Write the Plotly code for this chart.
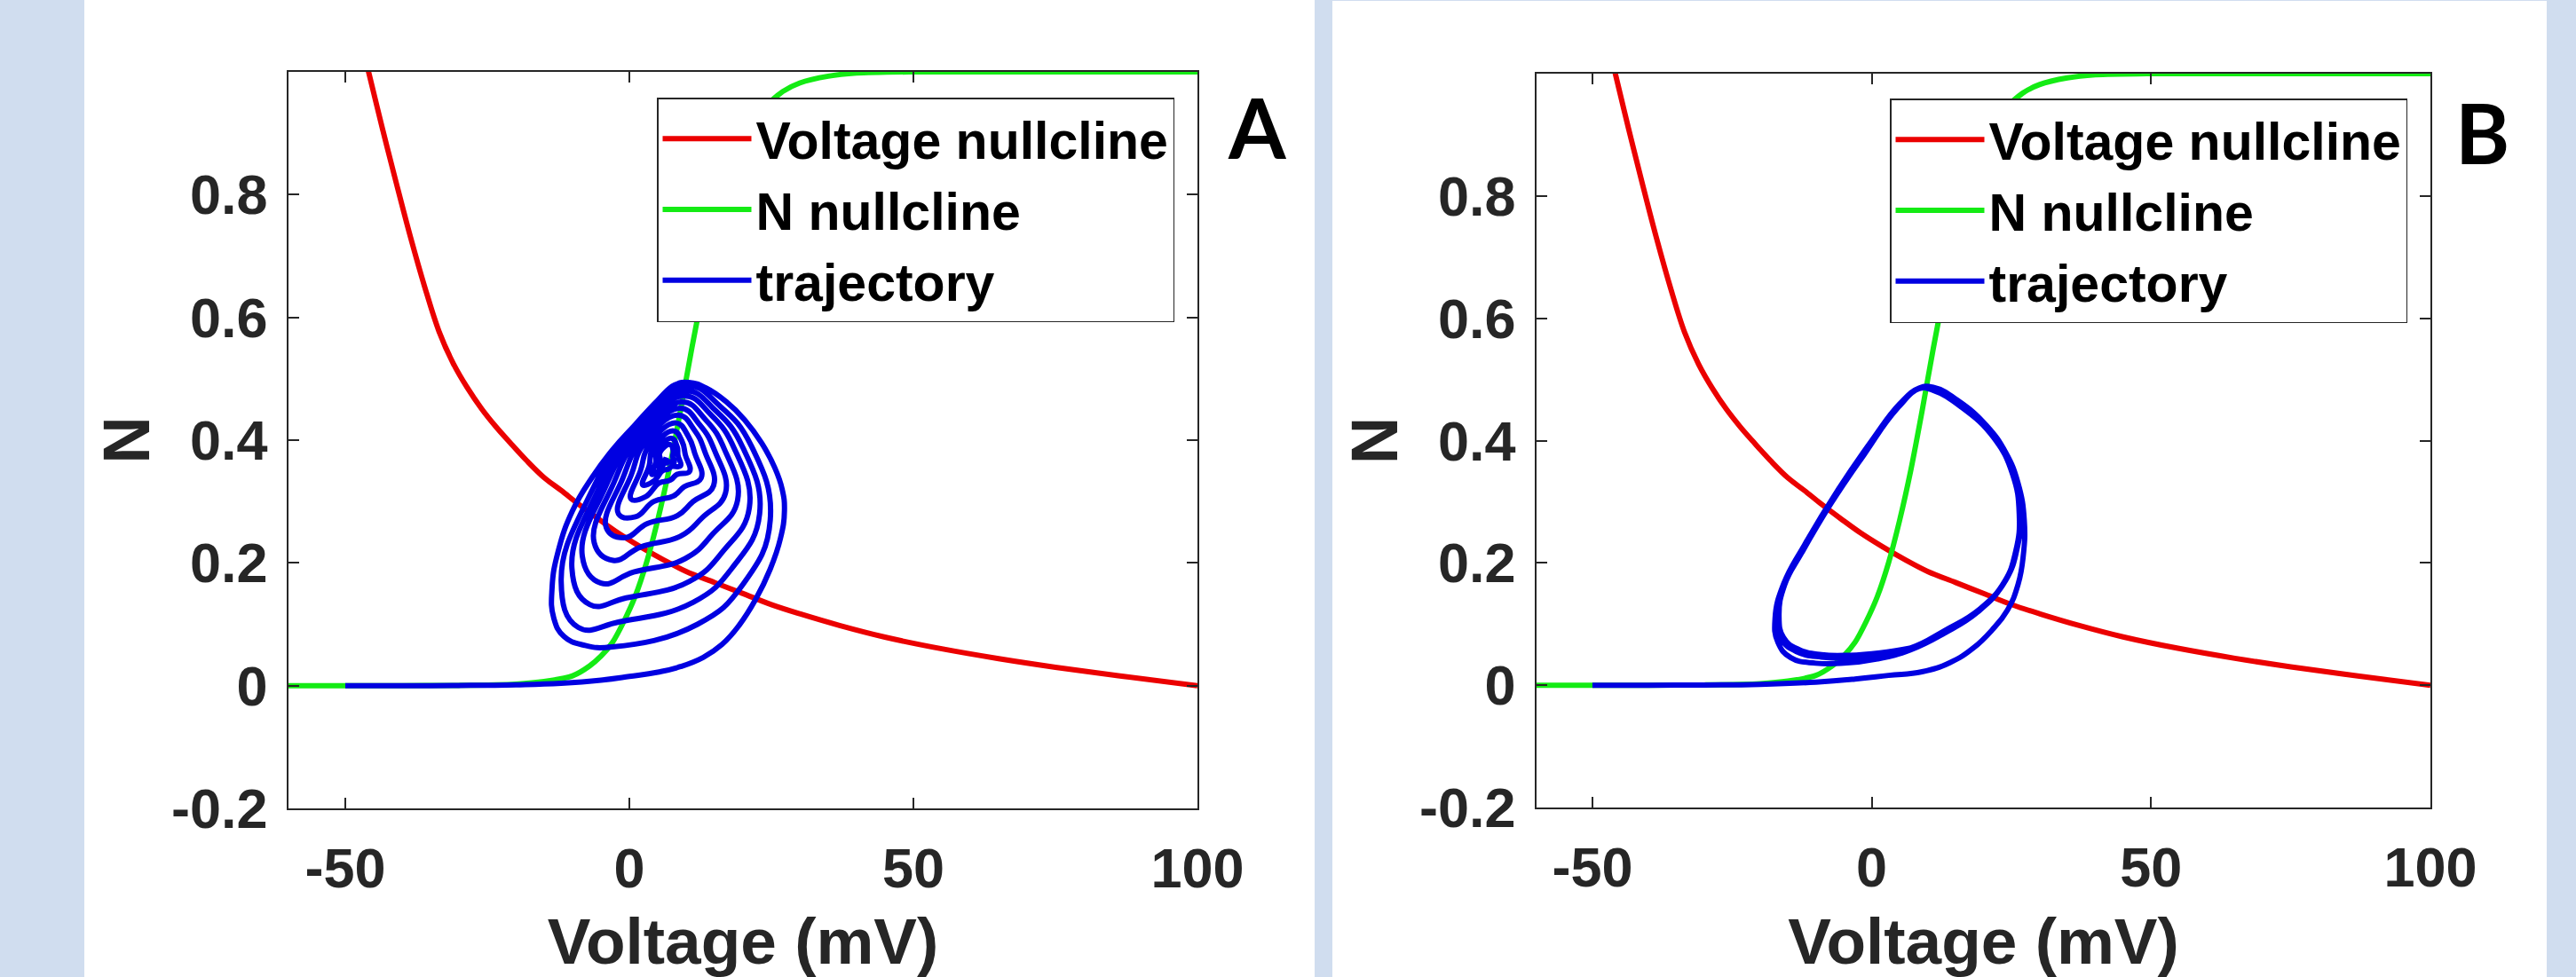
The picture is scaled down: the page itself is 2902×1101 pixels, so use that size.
import plotly.graph_objects as go

W, H = 2902, 1101

# ---------------- data ----------------
X_TICKS = [-50, 0, 50, 100]
X_TICKTEXT = ["-50", "0", "50", "100"]
Y_TICKS = [-0.2, 0.0, 0.2, 0.4, 0.6, 0.8]
Y_TICKTEXT = ["-0.2", "0", "0.2", "0.4", "0.6", "0.8"]

# Voltage nullcline (red)
VNULL_V = [-47, -45.9, -43.5, -41, -38.5, -36, -33.5, -31, -28.5, -26, -23.5, -21, -18, -15,
           -12, -9, -5.5, -2, 2, 6, 10, 15, 20, 25, 30, 37, 45, 55, 65, 75, 87, 100]
VNULL_N = [1.042, 1.0, 0.909, 0.818, 0.73, 0.649, 0.577, 0.525, 0.485, 0.451, 0.422, 0.396,
           0.366, 0.339, 0.318, 0.296, 0.272, 0.249, 0.226, 0.205, 0.186, 0.168, 0.15, 0.132,
           0.117, 0.098, 0.079, 0.06, 0.044, 0.03, 0.015, 0.0]

# N nullcline (green)
NNULL_V = [-60, -40, -30, -20, -15, -10, -7, -5, -3, -1, 1, 3, 5, 7, 9, 11, 13, 15, 18, 21,
           24, 27, 30, 35, 40, 50, 70, 100]
NNULL_N = [0.0, 0.0, 0.0004, 0.0025, 0.0067, 0.016, 0.032, 0.048, 0.07, 0.104, 0.145, 0.2,
           0.27, 0.352, 0.448, 0.55, 0.645, 0.73, 0.83, 0.9, 0.943, 0.968, 0.982, 0.993, 0.998,
           1.0, 1.0, 1.0]

# Panel A trajectory (damped spiral)
TRAJ_A_V = [
    -50, -40, -30, -20, -12, -5, 0, 5, 9, 13, 16.3, 19.3, 22.2, 24.8, 26.6, 27.3, 26.9, 25.6,
    23.3, 20.3, 17, 13.5, 10.5, 8, 5, 1, -3, -6.5, -10, -12.5, -13.6, -13.3, -11.5, -8,
    -3.0, 12.0, 20.0, 24.8, 21.5, 16.0, 10.0, 0.0, -7.0, -12.0, -9.0,
    -1.74, 11.27, 18.2, 22.93, 19.97, 15.19, 9.76, 0.45, -5.62, -10.11, -6.94,
    -0.54, 10.58, 16.5, 21.12, 18.49, 14.39, 9.51, 0.90, -4.29, -8.28, -4.99,
    0.75, 9.83, 14.67, 19.05, 16.79, 13.45, 9.22, 1.44, -2.76, -6.19, -2.88,
    2.02, 9.10, 12.87, 16.93, 15.05, 12.48, 8.90, 2.03, -1.20, -4.05, -0.82,
    3.17, 8.43, 11.23, 14.83, 13.33, 11.48, 8.57, 2.65, 0.36, -1.92, 1.07,
    4.29, 7.78, 9.65, 12.63, 11.53, 10.39, 8.19, 3.36, 1.98, 0.30, 2.89,
    5.21, 7.25, 8.34, 10.60, 9.86, 9.32, 7.79, 4.10, 3.48, 2.36, 4.39,
    5.83, 6.89, 7.46, 9.01, 8.56, 8.42, 7.43, 4.77, 4.65, 3.97, 5.40,
    6.20, 6.68, 6.93, 7.89, 7.64, 7.72, 7.13, 5.34, 5.47, 5.09, 6.00,
    6.5]
TRAJ_A_N = [
    0, 0, 0.0003, 0.0015, 0.004, 0.009, 0.015, 0.022, 0.031, 0.046, 0.067, 0.098, 0.14, 0.19,
    0.24, 0.285, 0.32, 0.355, 0.395, 0.433, 0.463, 0.485, 0.494, 0.49, 0.465, 0.425, 0.384,
    0.34, 0.285, 0.22, 0.16, 0.11, 0.08, 0.066,
    0.063, 0.100, 0.165, 0.270, 0.390, 0.455, 0.488, 0.410, 0.310, 0.170, 0.095,
    0.104, 0.136, 0.193, 0.280, 0.388, 0.448, 0.480, 0.407, 0.316, 0.191, 0.132,
    0.143, 0.170, 0.219, 0.290, 0.386, 0.441, 0.472, 0.405, 0.322, 0.211, 0.167,
    0.185, 0.207, 0.247, 0.302, 0.384, 0.433, 0.462, 0.402, 0.330, 0.233, 0.204,
    0.226, 0.244, 0.274, 0.314, 0.382, 0.424, 0.452, 0.398, 0.337, 0.257, 0.241,
    0.264, 0.277, 0.300, 0.326, 0.380, 0.416, 0.441, 0.395, 0.344, 0.280, 0.275,
    0.300, 0.309, 0.324, 0.338, 0.378, 0.406, 0.428, 0.390, 0.351, 0.304, 0.308,
    0.330, 0.335, 0.344, 0.349, 0.376, 0.397, 0.415, 0.386, 0.358, 0.327, 0.334,
    0.350, 0.353, 0.357, 0.358, 0.375, 0.389, 0.403, 0.382, 0.364, 0.344, 0.352,
    0.362, 0.363, 0.365, 0.364, 0.373, 0.383, 0.393, 0.379, 0.367, 0.357, 0.363,
    0.372]

# Panel B trajectory (converging onto a limit cycle)
TRAJ_B_V = [
    -50, -40, -30, -20, -10, -3, 3, 9, 14, 18.2, 21.5, 24.3, 26.2, 27.1, 27.3, 26.2, 24, 20.5,
    15.5, 11, 8.5, 5, 0, -6, -12, -15.8, -17.3, -16.8, -14.5, -10, -5, 1,
    7, 13, 19, 23.5, 25.8, 26.4, 25.2, 21.8, 16, 11, 8.5, 4.5, -1.5, -7.6, -12.9, -16, -17,
    -16.2, -13.5, -9, -4, 1.5,
    7, 13, 19.3, 23.8, 26, 26.6, 25.4, 22, 16.2, 11.2, 8.7, 4.6, -1.4, -7.4, -12.6, -15.7,
    -16.7, -15.9, -13.3, -9, -4, 1.5,
    7, 13, 19.4, 24, 26.1, 26.7, 25.5, 22.1, 16.3, 11.3, 8.8, 4.7, -1.3, -7.3, -12.5, -15.6,
    -16.6, -15.8, -13.2, -9, -4, 1.5, 7]
TRAJ_B_N = [
    0, 0, 0.0004, 0.0015, 0.005, 0.01, 0.016, 0.022, 0.037, 0.061, 0.09, 0.123, 0.165, 0.21,
    0.27, 0.33, 0.38, 0.425, 0.465, 0.487, 0.486, 0.46, 0.4, 0.32, 0.23, 0.165, 0.11, 0.07,
    0.045, 0.036, 0.036, 0.043,
    0.058, 0.085, 0.12, 0.165, 0.22, 0.28, 0.345, 0.405, 0.455, 0.482, 0.485, 0.452, 0.376,
    0.294, 0.213, 0.16, 0.11, 0.075, 0.055, 0.046, 0.045, 0.05,
    0.06, 0.088, 0.124, 0.17, 0.225, 0.28, 0.345, 0.405, 0.455, 0.482, 0.486, 0.453, 0.377,
    0.296, 0.216, 0.163, 0.113, 0.077, 0.058, 0.049, 0.048, 0.052,
    0.061, 0.089, 0.125, 0.172, 0.227, 0.282, 0.346, 0.406, 0.456, 0.483, 0.486, 0.454,
    0.378, 0.297, 0.217, 0.164, 0.114, 0.078, 0.059, 0.05, 0.049, 0.053, 0.061]

SERIES_NAMES = ["Voltage nullcline", "N nullcline", "trajectory"]
PANEL_LABELS = ["A", "B"]

# ---------------- styling ----------------
RED = "rgb(235,0,0)"
GREEN = "rgb(20,235,20)"
BLUE = "rgb(0,0,225)"
LW = 6
AX_COLOR = "#262626"
FONT = "Liberation Sans"

fig = go.Figure()

panels = [
    dict(xa="x", ya="y", lg="legend", tv=TRAJ_A_V, tn=TRAJ_A_N),
    dict(xa="x2", ya="y2", lg="legend2", tv=TRAJ_B_V, tn=TRAJ_B_N),
]
for p in panels:
    fig.add_trace(go.Scatter(x=VNULL_V, y=VNULL_N, mode="lines", name=SERIES_NAMES[0],
                             line=dict(color=RED, width=LW, shape="spline", smoothing=1.0),
                             xaxis=p["xa"], yaxis=p["ya"], legend=p["lg"], hoverinfo="skip"))
    fig.add_trace(go.Scatter(x=NNULL_V, y=NNULL_N, mode="lines", name=SERIES_NAMES[1],
                             line=dict(color=GREEN, width=LW, shape="spline", smoothing=0.8),
                             xaxis=p["xa"], yaxis=p["ya"], legend=p["lg"], hoverinfo="skip"))
    fig.add_trace(go.Scatter(x=p["tv"], y=p["tn"], mode="lines", name=SERIES_NAMES[2],
                             line=dict(color=BLUE, width=LW, shape="spline", smoothing=1.3),
                             xaxis=p["xa"], yaxis=p["ya"], legend=p["lg"], hoverinfo="skip"))

ax_common = dict(
    showgrid=False, zeroline=False, showline=True, linecolor=AX_COLOR, linewidth=1.5,
    mirror="ticks", ticks="inside", ticklen=12, tickwidth=1.5, tickcolor=AX_COLOR,
    automargin=False,
    tickfont=dict(family=FONT, size=63, color=AX_COLOR, weight="bold"),
)
xtitle = dict(text="Voltage (mV)", font=dict(family=FONT, size=73, color=AX_COLOR, weight="bold"),
              standoff=64)
ytitle = dict(text="N", font=dict(family=FONT, size=74, color=AX_COLOR, weight="bold"),
              standoff=0)

def xax(dom, anchor):
    return dict(ax_common, domain=dom, anchor=anchor, range=[-60, 100], tickmode="array",
                tickvals=X_TICKS, ticktext=X_TICKTEXT, title=xtitle, ticklabelstandoff=12)

def yax(dom, anchor):
    return dict(ax_common, domain=dom, anchor=anchor, range=[-0.2, 1.0], tickmode="array",
                tickvals=Y_TICKS, ticktext=Y_TICKTEXT, title=ytitle, ticklabelstandoff=9)

legend_common = dict(
    xanchor="right", yanchor="top", bgcolor="white", bordercolor=AX_COLOR, borderwidth=1.5,
    font=dict(family=FONT, size=59, color="black", weight="bold"), itemwidth=100,
    tracegroupgap=0, itemclick=False, itemdoubleclick=False,
)

fig.update_layout(
    width=W, height=H, autosize=False,
    margin=dict(l=0, r=0, t=0, b=0, pad=0, autoexpand=False),
    paper_bgcolor="#d0ddef", plot_bgcolor="white",
    showlegend=True,
    xaxis=xax([325 / W, 1349 / W], "y"),
    yaxis=yax([1 - 911 / H, 1 - 81 / H], "x"),
    xaxis2=xax([1731 / W, 2738 / W], "y2"),
    yaxis2=yax([1 - 910 / H, 1 - 83 / H], "x2"),
    legend=dict(legend_common, x=1323 / W, y=1 - 110 / H),
    legend2=dict(legend_common, x=2712 / W, y=1 - 111 / H),
    shapes=[
        dict(type="rect", xref="paper", yref="paper", x0=95 / W, x1=1481 / W, y0=0, y1=1,
             fillcolor="white", line=dict(width=0), layer="below"),
        dict(type="rect", xref="paper", yref="paper", x0=1501 / W, x1=2869 / W, y0=0,
             y1=1 - 1 / H, fillcolor="white", line=dict(width=0), layer="below"),
    ],
    annotations=[
        dict(text=PANEL_LABELS[0], xref="paper", yref="paper", x=1416 / W, y=1 - 143 / H,
             xanchor="center", yanchor="middle", showarrow=False,
             font=dict(family="Lato", size=93, color="black", weight="bold")),
        dict(text=PANEL_LABELS[1], xref="paper", yref="paper", x=2796 / W, y=1 - 149 / H,
             xanchor="center", yanchor="middle", showarrow=False,
             font=dict(family="Lato", size=93, color="black", weight="bold")),
    ],
)

fig.write_html("out.html", config={"displayModeBar": False},
               post_script="document.body.style.margin='0';document.body.style.overflow='hidden';")
